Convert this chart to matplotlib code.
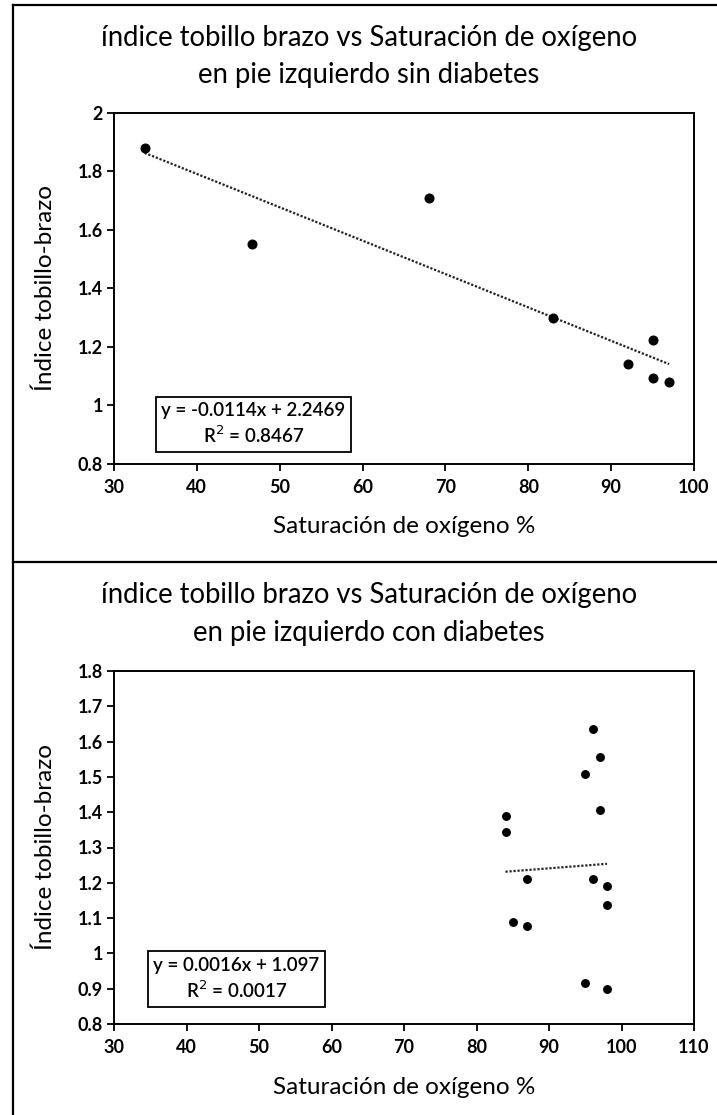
import matplotlib.pyplot as plt
from matplotlib.lines import Line2D

# ankle-brachial index vs oxygen saturation, left foot
sat_sin = [33.7, 46.7, 68, 83, 95, 92, 95, 97]
itb_sin = [1.88, 1.55, 1.71, 1.30, 1.225, 1.14, 1.095, 1.08]
slope_sin, icpt_sin, r2_sin = -0.0114, 2.2469, 0.8467

sat_con = [96, 97, 95, 97, 84, 84, 87, 96, 98, 98, 85, 87, 95, 98]
itb_con = [1.635, 1.556, 1.508, 1.406, 1.389, 1.345, 1.21, 1.21,
           1.191, 1.137, 1.089, 1.078, 0.916, 0.898]
slope_con, icpt_con, r2_con = 0.0016, 1.097, 0.0017

titles = [
    ['índice tobillo brazo vs Saturación de oxígeno',
     'en pie izquierdo sin diabetes'],
    ['índice tobillo brazo vs Saturación de oxígeno',
     'en pie izquierdo con diabetes'],
]
xlabel = 'Saturación de oxígeno %'
ylabel = 'Índice tobillo-brazo'

plt.rcParams['font.family'] = ['Lato', 'DejaVu Sans']

W, H = 717, 1115
fig = plt.figure(figsize=(W / 100, H / 100), dpi=100)


def px(x, y):
    return x / W, 1 - y / H


def scatter_panel(rect, xs, ys, slope, icpt, r2, xlim, ylim, xticks,
                  yticks, ytick_labels, ms, box_xy):
    ax = fig.add_axes(rect)
    ax.plot(xs, ys, 'o', color='black', ms=ms, zorder=3)
    x0, x1 = min(xs), max(xs)
    ax.plot([x0, x1], [slope * x0 + icpt, slope * x1 + icpt],
            color='#222222', lw=1.6, linestyle=(0, (1, 0.8)), zorder=2)
    ax.set_xlim(*xlim)
    ax.set_ylim(*ylim)
    ax.set_xticks(xticks)
    ax.set_yticks(yticks)
    ax.set_yticklabels(ytick_labels)
    for s in ax.spines.values():
        s.set_linewidth(1.4)
    ax.tick_params(direction='out', length=5, width=1.3,
                   labelsize=13, colors='black')
    ax.tick_params(axis='x', pad=6)
    ax.tick_params(axis='y', pad=3)
    for lab in ax.get_xticklabels() + ax.get_yticklabels():
        lab.set_fontweight('bold')
    ax.set_xlabel(xlabel, fontsize=17.5, va='center')
    ax.xaxis.set_label_coords(0.5, -0.179)
    ax.set_ylabel(ylabel, fontsize=17.5, va='center')
    ax.yaxis.set_label_coords(-0.119, 0.5)
    sign = '-' if icpt < 0 else '+'
    eq = (f'y = {slope:.4f}x {sign} {abs(icpt):g}'
          + f'\nR$^2$ = {r2:.4f}')
    ax.text(box_xy[0], box_xy[1], eq, transform=ax.transAxes,
            ha='center', va='center', fontsize=13.5, fontweight='semibold',
            linespacing=1.3,
            bbox=dict(boxstyle='square,pad=0.3', fc='white',
                      ec='black', lw=1.3))
    return ax


ax1 = scatter_panel([114 / W, 1 - 464 / H, 580 / W, 351.3 / H],
                    sat_sin, itb_sin, slope_sin, icpt_sin, r2_sin,
                    (30, 100), (0.8, 2), range(30, 101, 10),
                    [0.8, 1, 1.2, 1.4, 1.6, 1.8, 2],
                    ['0.8', '1', '1.2', '1.4', '1.6', '1.8', '2'],
                    6.2, (0.2405, 0.113))

ax2 = scatter_panel([114 / W, 1 - 1024 / H, 580 / W, 353 / H],
                    sat_con, itb_con, slope_con, icpt_con, r2_con,
                    (30, 110), (0.8, 1.8), range(30, 111, 10),
                    [0.8 + 0.1 * i for i in range(11)],
                    ['0.8', '0.9', '1', '1.1', '1.2', '1.3', '1.4',
                     '1.5', '1.6', '1.7', '1.8'],
                    5.4, (0.2107, 0.1275))

# two-line titles
for (l1, l2), (y1, y2) in zip(titles, [(38, 75), (595, 633)]):
    fig.text(*px(369, y1), l1, ha='center', va='center', fontsize=19.8)
    fig.text(*px(369, y2), l2, ha='center', va='center', fontsize=19.8)

# outer frame lines
for xs_, ys_ in [([12.7, 12.7], [4.7, H]), ([12.7, W], [4.7, 4.7]),
                 ([12.7, W], [562, 562])]:
    fig.add_artist(Line2D([x / W for x in xs_], [1 - y / H for y in ys_],
                          color='black', lw=1.6))

fig.savefig('out.png', dpi=100)
